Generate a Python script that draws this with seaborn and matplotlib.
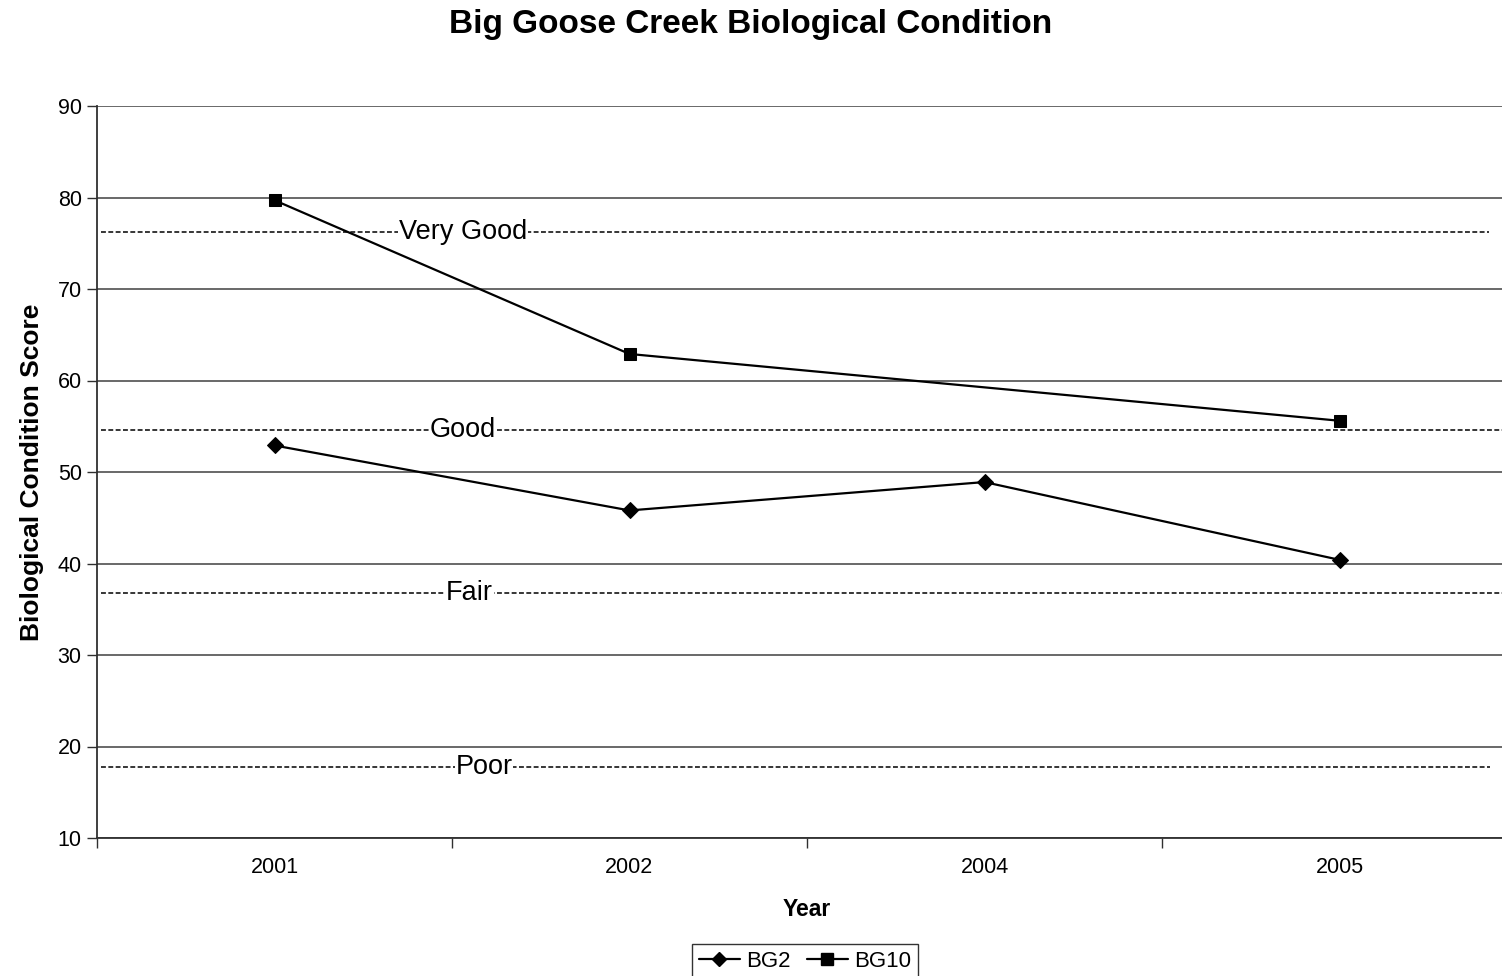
import matplotlib
matplotlib.use('Agg')
import matplotlib.pyplot as plt
import numpy as np
import pandas as pd
import seaborn as sns

years = ['2001', '2002', '2004', '2005']
bg2 = [52.9, 45.8, 48.9, 40.4]
bg10 = [79.7, 62.9, np.nan, 55.6]
class_names = ['Very Good', 'Good', 'Fair', 'Poor']
class_levels = [76.2, 54.6, 36.8, 17.8]
class_label_x = [0.53, 0.53, 0.55, 0.59]
class_line_end = [0.98, 1.0, 1.0, 0.981]
y_ticks = [10, 20, 30, 40, 50, 60, 70, 80, 90]

sns.set_style('white')
plt.rcParams['font.family'] = ['Liberation Sans', 'DejaVu Sans']
plt.rcParams['text.color'] = 'black'
plt.rcParams['xtick.color'] = 'black'
plt.rcParams['ytick.color'] = 'black'
plt.rcParams['axes.labelcolor'] = 'black'

rows = []
for name, vals in [('BG2', bg2), ('BG10', bg10)]:
    for i, v in enumerate(vals):
        if not np.isnan(v):
            rows.append({'pos': i, 'score': v, 'site': name})
df = pd.DataFrame(rows)

fig = plt.figure(figsize=(15.02, 9.76), dpi=100)
ax = fig.add_axes([97 / 1502, 1 - 838 / 976, 1420 / 1502, (838 - 106) / 976])

# gridlines first so everything sits on top
for t in y_ticks:
    ax.axhline(t, color='#404040', lw=1.1, zorder=0)

sns.lineplot(data=df, x='pos', y='score', hue='site', style='site',
             palette={'BG2': 'black', 'BG10': 'black'},
             markers={'BG2': 'D', 'BG10': 's'}, dashes=False,
             markersize=8.5, linewidth=1.6, markeredgecolor='black',
             ax=ax, legend=False, zorder=3)

for name, lev, lx, xe in zip(class_names, class_levels, class_label_x, class_line_end):
    ax.axhline(lev, xmin=0.003, xmax=xe, color='black', lw=1.1, ls=(0, (3.2, 1.6)), zorder=2)
    ax.text(lx, lev, name, fontsize=19.5, ha='center', va='center',
            bbox=dict(facecolor='white', edgecolor='none', pad=0.5), zorder=2.5)

ax.set_xlim(-0.5, 3.5)
ax.set_ylim(10, 90)
ax.set_yticks(y_ticks)
ax.set_xticks(range(len(years)))
ax.set_xticklabels(years, fontsize=15.5)
ax.set_xticks(np.arange(-0.5, 3.6, 1), minor=True)
ax.tick_params(axis='x', which='major', length=0, pad=14)
ax.tick_params(axis='x', which='minor', length=7, width=1, color='#303030', direction='out')
ax.tick_params(axis='y', length=7, width=1, color='#303030', direction='out', labelsize=15.5, pad=4)
ax.tick_params(left=True, bottom=True, which='both')

for s in ['top', 'right']:
    ax.spines[s].set_visible(False)
for s in ['left', 'bottom']:
    ax.spines[s].set_color('#303030')
    ax.spines[s].set_linewidth(1.3)

ax.set_xlabel('Year', fontsize=16.5, fontweight='bold', labelpad=14)
ax.set_ylabel('Biological Condition Score', fontsize=19, fontweight='bold', labelpad=10)
fig.suptitle('Big Goose Creek Biological Condition', fontsize=24, fontweight='bold',
             x=0.5, y=1 - 25 / 976, va='center')

handles = [
    plt.Line2D([], [], color='black', marker='D', markersize=7, lw=1.6),
    plt.Line2D([], [], color='black', marker='s', markersize=8, lw=1.6),
]
leg = fig.legend(handles, ['BG2', 'BG10'], loc='upper center', ncol=2,
                 bbox_to_anchor=(805 / 1502, 1 - 944 / 976), fontsize=16,
                 frameon=True, fancybox=False, handlelength=1.85, handletextpad=0.3,
                 columnspacing=0.7, borderpad=0.3, borderaxespad=0)
leg.get_frame().set_edgecolor('black')
leg.get_frame().set_linewidth(1)

fig.savefig('out.png', dpi=100)
